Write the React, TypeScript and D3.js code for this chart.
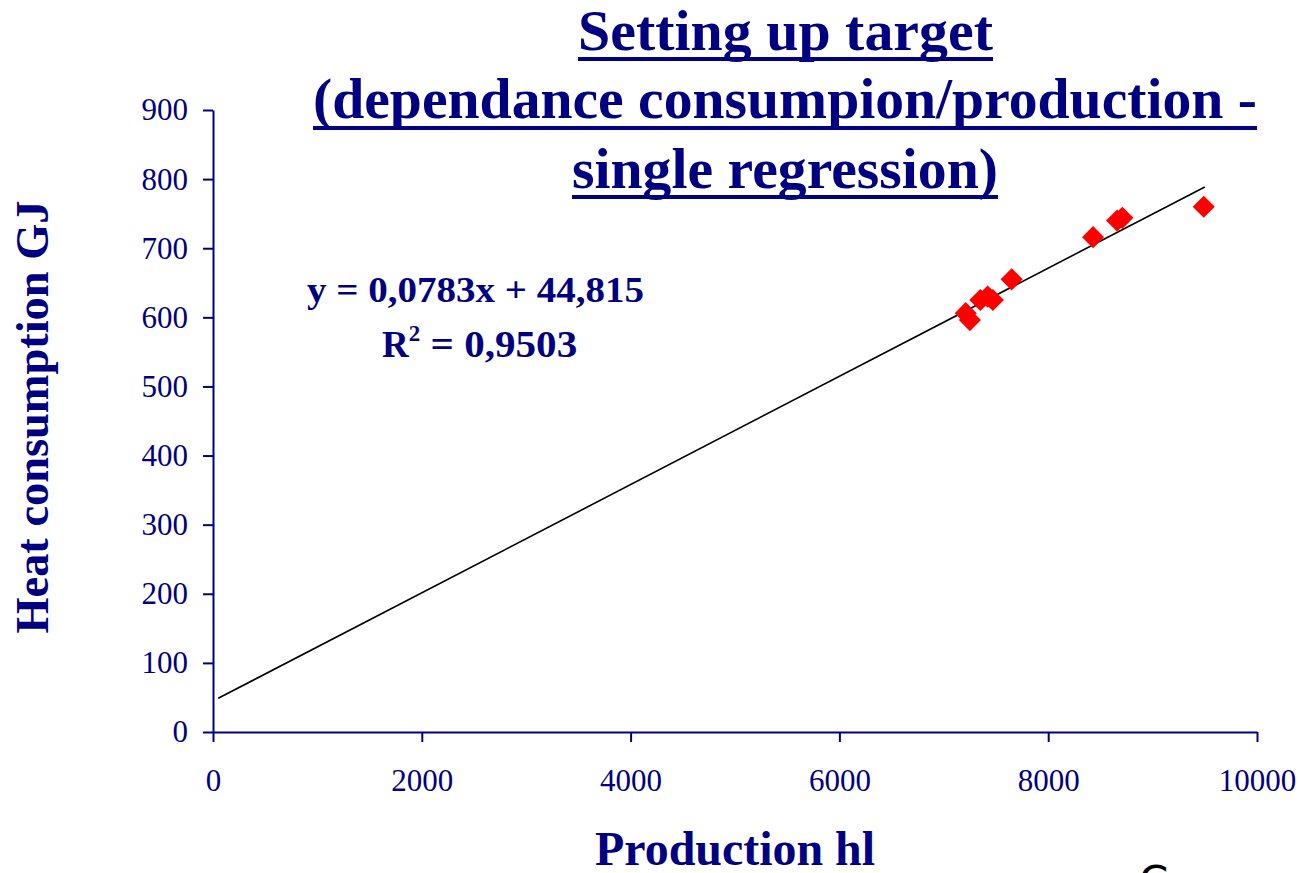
import React, { useEffect, useRef } from "react";
import * as d3 from "d3";

// ---- data ----
const production: number[] = [7250, 7210, 7350, 7420, 7470, 7650, 8430, 8660, 8710, 9490];
const heat: number[] = [596, 606, 625, 630, 625, 655, 716, 740, 744, 760];
const xTicks: number[] = [0, 2000, 4000, 6000, 8000, 10000];
const yTicks: number[] = [0, 100, 200, 300, 400, 500, 600, 700, 800, 900];
const trendSlope = 0.0783;
const trendIntercept = 44.815;
const trendFrom = 50;
const trendTo = 9500;
const titleLines: string[] = [
  "Setting up target",
  "(dependance consumpion/production -",
  "single regression)",
];
const equationText = "y = 0,0783x + 44,815";
const r2Value = " = 0,9503";
const xTitle = "Production hl";
const yTitle = "Heat consumption GJ";

const W = 1301;
const H = 873;
const NAVY = "#000080";
const SERIF = "'Liberation Serif', 'Times New Roman', 'DejaVu Serif', serif";

const x = d3.scaleLinear().domain([0, 10000]).range([213, 1257]);
const y = d3.scaleLinear().domain([0, 900]).range([732, 110]);

const titleLayout = [
  { cx: 785.5, base: 50, len: 415, ul: 57 },
  { cx: 785, base: 118, len: 944, ul: 126 },
  { cx: 785, base: 188, len: 426, ul: 195 },
];

export default function App() {
  const xRef = useRef<SVGGElement>(null);
  const yRef = useRef<SVGGElement>(null);

  useEffect(() => {
    const style = (g: d3.Selection<SVGGElement, unknown, null, undefined>) => {
      g.select(".domain").attr("stroke", NAVY).attr("stroke-width", 2);
      g.selectAll(".tick line").attr("stroke", NAVY).attr("stroke-width", 2);
      g.selectAll(".tick text")
        .attr("fill", NAVY)
        .attr("font-family", SERIF)
        .attr("font-size", 31);
      g.attr("font-family", null).attr("font-size", null);
    };
    if (xRef.current) {
      const g = d3.select(xRef.current);
      g.call(
        d3.axisBottom(x).tickValues(xTicks).tickSize(10).tickSizeOuter(0).tickPadding(27).tickFormat((d) => String(d))
      );
      style(g);
    }
    if (yRef.current) {
      const g = d3.select(yRef.current);
      g.call(
        d3.axisLeft(y).tickValues(yTicks).tickSize(10).tickSizeOuter(0).tickPadding(15).tickFormat((d) => String(d))
      );
      style(g);
    }
  }, []);

  const diamond = d3.symbol().type(d3.symbolSquare).size(245)()!;
  const trend = d3.line<number>()
    .x((d) => x(d))
    .y((d) => y(trendSlope * d + trendIntercept))([trendFrom, trendTo])!;

  return (
    <svg
      width={W}
      height={H}
      style={{ position: "absolute", left: 0, top: 0, background: "#fff" }}
    >
      <rect x={0} y={0} width={W} height={H} fill="#fff" />
      {/* title */}
      {titleLines.map((t, i) => {
        const L = titleLayout[i];
        return (
          <g key={i}>
            <text
              x={L.cx}
              y={L.base}
              textAnchor="middle"
              fontFamily={SERIF}
              fontWeight="bold"
              fontSize={57}
              fill={NAVY}
              textLength={L.len}
              lengthAdjust="spacingAndGlyphs"
            >
              {t}
            </text>
            <rect x={L.cx - L.len / 2} y={L.ul} width={L.len} height={4} fill={NAVY} />
          </g>
        );
      })}

      {/* axes */}
      <g ref={xRef} transform={`translate(0,${y(0)})`} />
      <g ref={yRef} transform={`translate(${x(0)},0)`} />

      {/* trendline */}
      <path d={trend} fill="none" stroke="#000" strokeWidth={1.6} />

      {/* points */}
      {production.map((p, i) => (
        <path
          key={i}
          d={diamond}
          transform={`translate(${x(p)},${y(heat[i])}) rotate(45)`}
          fill="#ff0000"
        />
      ))}

      {/* equation */}
      <text
        x={307}
        y={302}
        fontFamily={SERIF}
        fontWeight="bold"
        fontSize={35}
        fill={NAVY}
        textLength={337}
        lengthAdjust="spacingAndGlyphs"
      >
        {equationText}
      </text>
      <text x={382} y={357} fontFamily={SERIF} fontWeight="bold" fontSize={37} fill={NAVY}>
        R
        <tspan dy={-16} fontSize={23}>2</tspan>
        <tspan dy={16} textLength={157} lengthAdjust="spacingAndGlyphs">{r2Value}</tspan>
      </text>

      {/* axis titles */}
      <text
        x={735}
        y={865}
        textAnchor="middle"
        fontFamily={SERIF}
        fontWeight="bold"
        fontSize={48}
        fill={NAVY}
        textLength={280}
        lengthAdjust="spacingAndGlyphs"
      >
        {xTitle}
      </text>
      <text
        transform={`translate(48,417) rotate(-90)`}
        textAnchor="middle"
        fontFamily={SERIF}
        fontWeight="bold"
        fontSize={46}
        fill={NAVY}
        textLength={433}
        lengthAdjust="spacingAndGlyphs"
      >
        {yTitle}
      </text>

      {/* cut-off glyph at bottom right */}
      <text x={1139} y={896} fontFamily="'DejaVu Sans', sans-serif" fontSize={42} fill="#000">
        C
      </text>
    </svg>
  );
}
